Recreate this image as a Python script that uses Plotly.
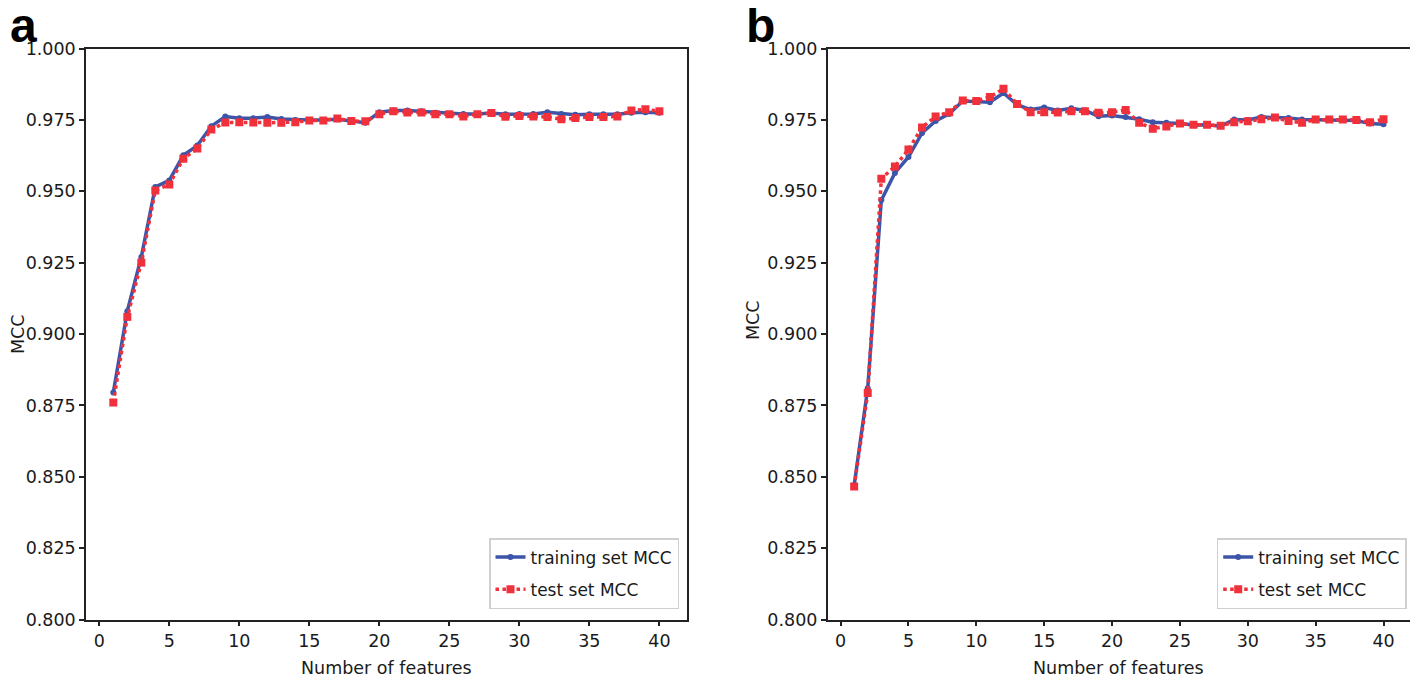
import plotly.graph_objects as go

features = list(range(1, 41))

a_train = [0.8795, 0.908, 0.927, 0.9515, 0.9538, 0.9626, 0.966, 0.9728, 0.9762, 0.9756,
           0.9756, 0.976, 0.9753, 0.975, 0.975, 0.975, 0.9752, 0.9746, 0.974, 0.9777,
           0.9783, 0.9783, 0.978, 0.9775, 0.9771, 0.9771, 0.9771, 0.9774, 0.977, 0.9771,
           0.9771, 0.9777, 0.9771, 0.9768, 0.977, 0.977, 0.977, 0.9775, 0.9777, 0.9775]
a_test = [0.876, 0.906, 0.925, 0.9503, 0.9524, 0.9614, 0.965, 0.9716, 0.9741, 0.9742,
          0.9741, 0.974, 0.974, 0.9742, 0.9748, 0.9748, 0.9755, 0.9746, 0.9745, 0.977,
          0.978, 0.9776, 0.9776, 0.977, 0.977, 0.9762, 0.977, 0.9774, 0.9761, 0.9764,
          0.9762, 0.976, 0.9752, 0.9757, 0.976, 0.976, 0.9762, 0.9783, 0.9787, 0.978]
b_train = [0.847, 0.881, 0.9469, 0.9564, 0.962, 0.9704, 0.9746, 0.9771, 0.9816, 0.9815,
           0.9812, 0.9844, 0.9803, 0.9786, 0.9793, 0.9783, 0.9791, 0.9783, 0.9763, 0.9765,
           0.976, 0.9752, 0.9742, 0.974, 0.9737, 0.9732, 0.9733, 0.9728, 0.9751, 0.975,
           0.976, 0.9758, 0.9757, 0.9751, 0.975, 0.975, 0.975, 0.9748, 0.9737, 0.9735]
b_test = [0.8466, 0.8793, 0.9544, 0.9587, 0.9646, 0.9723, 0.9762, 0.9777, 0.9818, 0.9816,
          0.983, 0.9859, 0.9806, 0.9777, 0.9777, 0.9776, 0.978, 0.978, 0.9775, 0.9777,
          0.9785, 0.974, 0.9719, 0.9727, 0.9737, 0.9733, 0.9733, 0.9729, 0.9742, 0.9745,
          0.9752, 0.9758, 0.9746, 0.974, 0.9751, 0.9751, 0.9751, 0.975, 0.9742, 0.9752]

x_ticks = [0, 5, 10, 15, 20, 25, 30, 35, 40]
y_ticks = [0.800, 0.825, 0.850, 0.875, 0.900, 0.925, 0.950, 0.975, 1.000]
train_name = "training set MCC"
test_name = "test set MCC"

BLUE = "#3d55a8"
RED = "#f0303a"
FONT = "DejaVu Sans"
TXT = "#1a1a1a"

# page offset (body margin) and figure size so that the figure fills the window
OFF = 8
W = 1418 - OFF
H = 683 - OFF


def px(X):
    return (X - OFF) / W


def py(Y):
    return 1 - (Y - OFF) / H


fig = go.Figure()

for xa, ya, leg, tr, te in [("x", "y", "legend", a_train, a_test),
                            ("x2", "y2", "legend2", b_train, b_test)]:
    fig.add_trace(go.Scatter(x=features, y=tr, name=train_name, mode="lines+markers",
                             line=dict(color=BLUE, width=3.5),
                             marker=dict(symbol="circle", size=6, color=BLUE),
                             xaxis=xa, yaxis=ya, legend=leg, legendgroup=leg + "tr"))
    fig.add_trace(go.Scatter(x=features, y=te, name=test_name, mode="lines+markers",
                             line=dict(color=RED, width=3.5, dash="dot"),
                             marker=dict(symbol="square", size=8, color=RED),
                             xaxis=xa, yaxis=ya, legend=leg, legendgroup=leg + "te"))

axis_common = dict(showline=True, linecolor="#222222", linewidth=1.5, mirror=True,
                   ticks="outside", ticklen=5, tickwidth=1.5, tickcolor="#222222",
                   showgrid=False, zeroline=False, automargin=False,
                   tickfont=dict(family=FONT, size=17.5, color=TXT))

ydom = [py(619.5), py(48.5)]
legend_common = dict(xanchor="right", yanchor="bottom",
                     bordercolor="#d0d0d0", borderwidth=1.5, bgcolor="white",
                     tracegroupgap=7,
                     font=dict(family=FONT, size=17, color=TXT))


def label(text, X, Y, size=17.5, family=FONT, angle=0, color=TXT):
    return dict(text=text, x=px(X), y=py(Y), xref="paper", yref="paper",
                xanchor="center", yanchor="middle", showarrow=False, textangle=angle,
                font=dict(family=family, size=size, color=color))


fig.update_layout(
    width=W, height=H, autosize=False,
    margin=dict(l=0, r=0, t=0, b=0, pad=0),
    paper_bgcolor="white", plot_bgcolor="white",
    xaxis=dict(domain=[px(86), px(686.7)], range=[-0.95, 41.95], tickvals=x_ticks,
               anchor="y", **axis_common),
    yaxis=dict(domain=ydom, range=[0.8, 1.0], tickvals=y_ticks, tickformat=".3f",
               anchor="x", **axis_common),
    xaxis2=dict(domain=[px(827.7), px(1410)], range=[-0.95, 41.95], tickvals=x_ticks,
                anchor="y2", **axis_common),
    yaxis2=dict(domain=ydom, range=[0.8, 1.0], tickvals=y_ticks, tickformat=".3f",
                anchor="x2", **axis_common),
    legend=dict(x=px(679), y=py(609), **legend_common),
    legend2=dict(x=px(1406.7), y=py(609), **legend_common),
    annotations=[
        label("Number of features", (86 + 686.7) / 2, 668),
        label("Number of features", (827.7 + 1410) / 2, 668),
        label("MCC", 18, 334, angle=-90),
        label("MCC", 753, 320, angle=-90),
        label("<b>a</b>", 23, 26, size=48, family="Liberation Sans", color="black"),
        label("<b>b</b>", 760, 26, size=48, family="Liberation Sans", color="black"),
    ],
)

fig.write_html("out.html")
